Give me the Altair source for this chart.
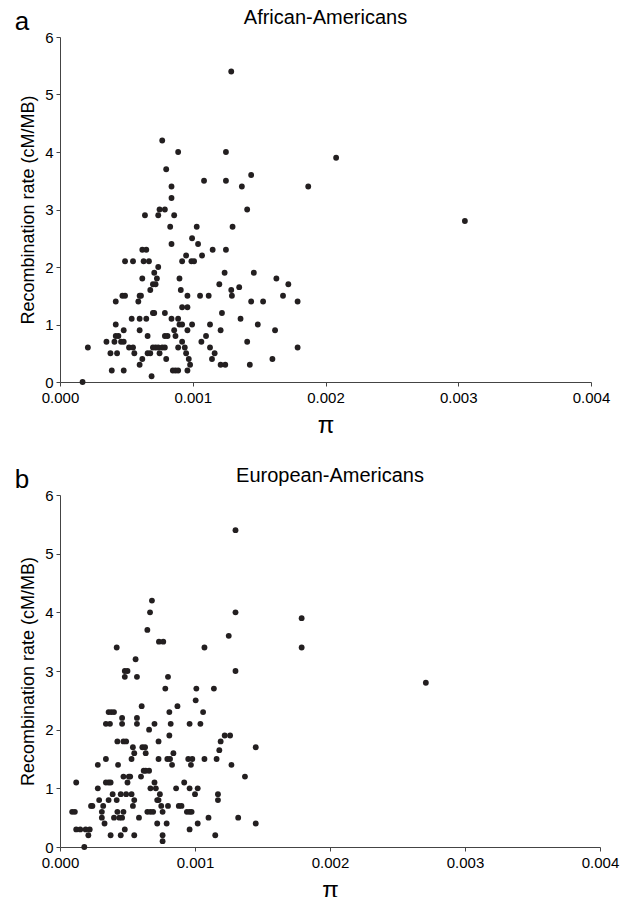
import altair as alt
import pandas as pd

# Panel a: African-Americans
a_pi = [0.00017, 0.00021, 0.00035, 0.00041, 0.00038, 0.00039, 0.00042, 0.00042, 0.00044, 0.00043,
        0.00042, 0.00047, 0.00049, 0.00049, 0.00055, 0.00046, 0.00048, 0.00048, 0.00048, 0.00052,
        0.00055, 0.00056, 0.00054, 0.00060, 0.00060, 0.00060, 0.00062, 0.00059, 0.00060, 0.00061,
        0.00062, 0.00062, 0.00065, 0.00063, 0.00067, 0.00064, 0.00065, 0.00066, 0.00066, 0.00068,
        0.00069, 0.00068, 0.00070, 0.00072, 0.00071, 0.00073, 0.00074, 0.00070, 0.00071, 0.00070,
        0.00072, 0.00074, 0.00077, 0.00079, 0.00075, 0.00080, 0.00074, 0.00075, 0.00079, 0.00079,
        0.00079, 0.00081, 0.00083, 0.00084, 0.00084, 0.00084, 0.00086, 0.00084, 0.00086, 0.00087,
        0.00085, 0.00087, 0.00089, 0.00089, 0.00089, 0.00090, 0.00092, 0.00092, 0.00091, 0.00090,
        0.00092, 0.00095, 0.00092, 0.00096, 0.00094, 0.00096, 0.00096, 0.00095, 0.00097, 0.00098,
        0.00096, 0.00099, 0.00101, 0.000995, 0.000995, 0.00103, 0.00104, 0.001055, 0.00107, 0.001065,
        0.00110, 0.00112, 0.00113, 0.00113, 0.00115, 0.001145, 0.001165, 0.00120, 0.00121, 0.00122,
        0.00121, 0.00124, 0.00125, 0.001245, 0.00129, 0.001295, 0.00130, 0.00135, 0.00136, 0.00141,
        0.00141, 0.00143, 0.00144, 0.00146, 0.00149, 0.00153, 0.00160, 0.00162, 0.00163, 0.00168,
        0.00172, 0.00179, 0.00179, 0.00077, 0.00089, 0.00080, 0.001085, 0.00125, 0.00125, 0.00129,
        0.00137, 0.00144, 0.00187, 0.00208, 0.00305]
a_rate = [0.0, 0.6, 0.7, 0.7, 0.5, 0.2, 1.0, 0.8, 0.8, 0.5,
          1.4, 1.5, 1.5, 2.1, 2.1, 0.7, 0.7, 0.9, 0.2, 0.6,
          0.6, 0.5, 1.1, 1.1, 0.9, 0.3, 0.4, 1.4, 1.5, 1.5,
          1.8, 2.3, 2.3, 2.1, 2.1, 2.9, 1.1, 0.8, 0.5, 0.5,
          0.1, 1.6, 1.7, 1.7, 1.9, 1.8, 2.0, 1.2, 1.2, 0.6,
          0.6, 0.6, 0.6, 0.6, 0.5, 0.4, 2.9, 3.0, 3.0, 1.2,
          0.8, 0.8, 2.7, 2.4, 3.2, 3.4, 2.9, 1.1, 0.9, 0.8,
          0.2, 0.2, 0.2, 0.6, 1.1, 1.0, 1.0, 0.7, 1.6, 1.8,
          2.1, 2.2, 1.3, 1.3, 0.6, 0.9, 1.5, 0.5, 0.4, 0.3,
          0.2, 2.1, 2.1, 2.5, 1.0, 2.7, 2.4, 1.5, 2.2, 0.7,
          0.8, 1.5, 1.0, 0.6, 2.3, 0.4, 0.5, 1.7, 0.9, 1.2,
          0.3, 1.9, 2.3, 0.3, 1.6, 1.5, 2.7, 1.65, 1.1, 3.0,
          0.7, 0.3, 1.4, 1.9, 1.0, 1.4, 0.4, 0.9, 1.8, 1.5,
          1.7, 1.4, 0.6, 4.2, 4.0, 3.7, 3.5, 3.5, 4.0, 5.4,
          3.4, 3.6, 3.4, 3.9, 2.8]

# Panel b: European-Americans
b_pi = [0.00018, 0.00012, 0.00009, 0.00011, 0.00012, 0.00015, 0.00019, 0.00022, 0.00021, 0.00023,
        0.00024, 0.00028, 0.00028, 0.00029, 0.00031, 0.00032, 0.00031, 0.00033, 0.00034, 0.00034,
        0.00036, 0.000375, 0.00034, 0.00037, 0.00036, 0.00038, 0.00040, 0.000375, 0.00036, 0.00039,
        0.00040, 0.00042, 0.00042, 0.000425, 0.00043, 0.000425, 0.00045, 0.00046, 0.00046, 0.00044,
        0.00046, 0.00045, 0.00047, 0.00047, 0.00047, 0.00049, 0.00048, 0.00048, 0.00050, 0.00049,
        0.00048, 0.00050, 0.00051, 0.00052, 0.00053, 0.00053, 0.00054, 0.00055, 0.00054, 0.00055,
        0.00055, 0.00056, 0.00057, 0.00057, 0.00057, 0.000585, 0.00060, 0.000605, 0.00061, 0.00063,
        0.00062, 0.000635, 0.000635, 0.000647, 0.000667, 0.000681, 0.000647, 0.00067, 0.00069, 0.00066,
        0.00066, 0.00067, 0.00070, 0.00070, 0.00071, 0.00072, 0.00073, 0.00073, 0.00072, 0.000733,
        0.000765, 0.00073, 0.00074, 0.00075, 0.00076, 0.00076, 0.00076, 0.00078, 0.00079, 0.000795,
        0.00080, 0.00080, 0.00081, 0.00081, 0.000815, 0.00082, 0.00083, 0.00084, 0.00086, 0.00087,
        0.00088, 0.00090, 0.00092, 0.00094, 0.00096, 0.000975, 0.00095, 0.00098, 0.00096, 0.00096,
        0.00096, 0.00097, 0.00100, 0.001005, 0.00101, 0.00102, 0.00102, 0.00104, 0.00106, 0.00107,
        0.00107, 0.00110, 0.00114, 0.00115, 0.00116, 0.00117, 0.00117, 0.00118, 0.00119, 0.00122,
        0.00126, 0.00125, 0.00127, 0.00130, 0.00132, 0.00137, 0.00145, 0.00145, 0.00179, 0.00130,
        0.00130, 0.00179, 0.00271]
b_rate = [0.0, 1.1, 0.6, 0.6, 0.3, 0.3, 0.3, 0.3, 0.2, 0.7,
          0.7, 1.0, 1.4, 0.8, 0.6, 0.7, 0.5, 0.4, 1.5, 1.1,
          1.1, 1.1, 2.1, 2.1, 2.3, 2.3, 2.3, 0.2, 0.8, 0.9,
          0.5, 3.4, 0.8, 1.8, 1.4, 0.6, 0.9, 2.2, 2.1, 0.5,
          0.5, 0.2, 0.6, 1.2, 1.8, 1.8, 2.9, 3.0, 3.0, 0.9,
          0.3, 1.1, 1.2, 1.2, 1.5, 0.9, 1.7, 0.8, 0.7, 1.6,
          0.2, 3.2, 2.9, 2.2, 2.1, 0.5, 1.2, 2.4, 1.7, 1.7,
          1.3, 1.3, 1.6, 3.7, 4.0, 4.2, 0.6, 0.6, 0.6, 2.0,
          1.3, 1.0, 1.1, 2.1, 1.0, 0.8, 0.8, 1.8, 0.4, 3.5,
          3.5, 1.5, 0.9, 0.7, 0.6, 0.2, 0.1, 2.7, 0.4, 1.5,
          0.7, 2.9, 2.3, 1.9, 1.5, 2.1, 1.4, 1.6, 1.0, 2.4,
          0.7, 0.7, 1.1, 0.6, 0.6, 0.6, 1.5, 1.5, 2.1, 0.3,
          1.0, 1.4, 0.9, 2.5, 2.7, 1.0, 0.4, 2.1, 2.3, 3.4,
          1.5, 0.5, 2.7, 0.2, 1.5, 0.8, 0.9, 1.65, 1.8, 1.9,
          1.9, 3.6, 1.4, 3.0, 0.5, 1.2, 1.7, 0.4, 3.4, 4.0,
          5.4, 3.9, 2.8]

x_ticks = [0.0, 0.001, 0.002, 0.003, 0.004]
y_ticks = [0, 1, 2, 3, 4, 5, 6]

FONT = "Liberation Sans"
DOT = "#231f20"


def panel(pis, rates, title, letter, w, h):
    df = pd.DataFrame({"pi": pis, "rate": rates})
    pts = alt.Chart(df).mark_circle(size=34, color=DOT, opacity=1).encode(
        x=alt.X("pi:Q", scale=alt.Scale(domain=[0, 0.004], nice=False),
                axis=alt.Axis(values=x_ticks, format=".3f", title="π",
                              titleFontSize=24, titleFont=FONT, titleFontWeight="normal",
                              titlePadding=8, labelPadding=4, labelFlush=False)),
        y=alt.Y("rate:Q", scale=alt.Scale(domain=[0, 6], nice=False),
                axis=alt.Axis(values=y_ticks, title="Recombination rate (cM/MB)",
                              titleFontSize=18, titleFont=FONT, titleFontWeight="normal",
                              titlePadding=7, labelPadding=3)),
    )
    lab = alt.Chart(pd.DataFrame({"t": [letter]})).mark_text(
        fontSize=26, font=FONT, color="black", align="center", baseline="middle"
    ).encode(x=alt.value(-38), y=alt.value(-15), text="t:N")
    ttl = alt.Chart(pd.DataFrame({"t": [title]})).mark_text(
        fontSize=20, font=FONT, color="black", align="center", baseline="middle"
    ).encode(x=alt.value(w / 2), y=alt.value(-19), text="t:N")
    return alt.layer(pts, lab, ttl).properties(width=w, height=h)


pa = panel(a_pi, a_rate, "African-Americans", "a", 531, 345)
pb = panel(b_pi, b_rate, "European-Americans", "b", 540, 352)

chart = alt.vconcat(pa, pb, spacing=29).properties(
    padding={"left": 6, "top": 0, "right": 5, "bottom": 0}
).configure_view(stroke=None).configure_axis(
    grid=False, domainColor="#444", tickColor="#444", tickSize=4,
    labelFont=FONT, labelFontSize=15, labelColor="black", titleColor="black",
    domainWidth=1, tickWidth=1,
)

chart.save("out.html", embed_options={"renderer": "svg", "actions": False})
